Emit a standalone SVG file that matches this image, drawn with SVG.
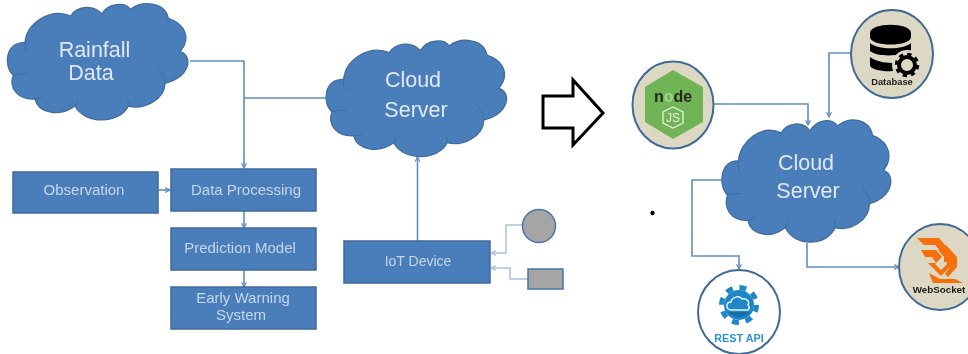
<svg xmlns="http://www.w3.org/2000/svg" width="968" height="354" viewBox="0 0 968 354">
<style>
.cloud{fill:#4a7ebb;stroke:#3f6d9f;stroke-width:4;stroke-linejoin:round}
.fold{fill:none;stroke:#3f6d9f;stroke-width:3}
.box{fill:#4a7ebb;stroke:#3f6a98;stroke-width:1.5}
.gray{fill:#a5a5a5;stroke:#4a76a8;stroke-width:1.5}
.disc{fill:#ddd8c4;stroke:#3f6a98;stroke-width:2}
text{font-family:"Liberation Sans",Arial,sans-serif;text-anchor:middle}
.big{fill:#dfe8f3;font-size:21.5px}
.lab{fill:#c6d6ea;font-size:15px}
.wire{fill:none;stroke:#5f8ec2;stroke-width:1.6}
.thin{fill:none;stroke:#a9c0da;stroke-width:1.4}
.bk{fill:#000}
.ic{font-weight:bold}
.ws{fill:#f56f0c}
</style>
<defs>
<filter id="soft" x="0" y="0" width="968" height="354" filterUnits="userSpaceOnUse"><feGaussianBlur stdDeviation="0.45"/></filter>
<marker id="a" viewBox="0 0 10 10" refX="9" refY="5" markerWidth="6" markerHeight="6" orient="auto" markerUnits="userSpaceOnUse"><path d="M1 1L9 5L1 9" fill="none" stroke="#5f8ec2" stroke-width="2"/></marker>
<marker id="b" viewBox="0 0 10 10" refX="9" refY="5" markerWidth="6" markerHeight="6" orient="auto" markerUnits="userSpaceOnUse"><path d="M1 1L9 5L1 9" fill="none" stroke="#a9c0da" stroke-width="2"/></marker>
<g id="cloudShape">
<path class="cloud" d="M75 128C80 70 150 22 212 48C230 18 280 12 305 42C325 8 375 5 392 28C425 0 495 5 505 55C545 68 568 100 553 135L540 155C578 165 575 228 495 250C495 300 430 330 385 318C360 372 255 375 225 318C180 352 115 340 105 297C55 300 25 265 40 225C10 200 15 125 75 128Z"/>
<path class="fold" d="M75 128C73 142 75 152 80 160M40 225C55 222 68 222 82 220M495 250C495 230 485 215 470 205M385 318C385 308 385 302 382 296M225 318C230 312 232 306 232 300M105 297C115 297 122 295 130 290M540 155C546 148 550 142 553 135"/>
</g>
</defs>
<g filter="url(#soft)">
<rect width="968" height="354" fill="#fff"/>
<g id="connectors">
<path class="wire" d="M190 61H244V168" marker-end="url(#a)"/>
<path class="wire" d="M244 98H327"/>
<path class="wire" d="M159 190H170" marker-end="url(#a)"/>
<path class="wire" d="M244 211V228" marker-end="url(#a)"/>
<path class="wire" d="M244 270V287" marker-end="url(#a)"/>
<path class="wire" d="M417.500 241V157" marker-end="url(#a)"/>
<path class="thin" d="M522 225H506V253H491" marker-end="url(#b)"/>
<path class="thin" d="M528 279H510V268H491" marker-end="url(#b)"/>
<path class="wire" d="M714 104H808V125" marker-end="url(#a)"/>
<path class="wire" d="M852 53H829V117" marker-end="url(#a)"/>
<path class="wire" d="M722 180H692V256H739V269" marker-end="url(#a)"/>
<path class="wire" d="M807 243V267H899" marker-end="url(#a)"/>
</g>
<g id="rainfall">
<use href="#cloudShape" transform="scale(.3333)"/>
<text class="big" x="94.500" y="57">Rainfall</text>
<text class="big" x="91" y="80">Data</text>
</g>
<g id="cloud-left">
<use href="#cloudShape" transform="translate(318.700 36.700) scale(.3333)"/>
<text class="big" x="413" y="87">Cloud</text>
<text class="big" x="416" y="117">Server</text>
</g>
<g id="observation"><rect class="box" x="13" y="172" width="145" height="41"/><text class="lab" x="84" y="195">Observation</text></g>
<g id="data-processing"><rect class="box" x="171" y="169" width="145" height="42"/><text class="lab" x="246" y="195">Data Processing</text></g>
<g id="prediction-model"><rect class="box" x="171" y="228" width="145" height="42"/><text class="lab" x="240" y="253">Prediction Model</text></g>
<g id="early-warning"><rect class="box" x="171" y="287" width="145" height="42"/><text class="lab" x="243" y="303">Early Warning</text><text class="lab" x="241" y="320">System</text></g>
<g id="iot-device"><rect class="box" x="344" y="241" width="146" height="42"/><text class="lab" x="418" y="266" style="font-size:14px">IoT Device</text></g>
<g id="sensor-circle"><circle class="gray" cx="539" cy="226" r="16.500"/></g>
<g id="sensor-rect"><rect class="gray" x="528" y="269" width="35" height="20"/></g>
<g id="big-arrow"><path d="M543 96H573V80L603 113L573 145V128H543Z" fill="#fff" stroke="#000" stroke-width="3"/></g>
<g id="cloud-right">
<use href="#cloudShape" transform="translate(715 116.200) scale(.312 .35)"/>
<text class="big" x="806" y="170">Cloud</text>
<text class="big" x="808" y="198">Server</text>
</g>
<g id="nodejs">
<ellipse class="disc" cx="673" cy="105" rx="40.500" ry="43.500"/>
<path d="M673 70L703 87V122L673 139L645 122V87Z" fill="#70b455"/>
<text class="ic" x="673" y="102" style="font-size:16px" fill="#25291f">n<tspan fill="#a6d48c">o</tspan>de</text>
<path d="M673 107L683 112V123L673 128L663 123V112Z" fill="none" stroke="#e4f1dc" stroke-width="1.300"/>
<text x="673" y="122" style="font-size:12px" fill="#e4f1dc">JS</text>
</g>
<g id="database">
<ellipse class="disc" cx="892" cy="54" rx="41" ry="44"/>
<path class="bk" d="M870 33C870 22 911 22 911 33V37C911 47 870 47 870 37Z"/>
<path class="bk" d="M870 43C878 50 903 50 911 43V50C905 56 878 58 870 51Z"/>
<path class="bk" d="M870 57C878 63 893 64 899 62L897 68L893 71C885 72 870 70 870 65Z"/>
<circle cx="907" cy="65" r="15" fill="#ddd8c4"/>
<circle cx="907" cy="65" r="8" fill="none" stroke="#000" stroke-width="4"/>
<circle cx="907" cy="65" r="10.500" fill="none" stroke="#000" stroke-width="3.500" stroke-dasharray="4.120 4.120"/>
<text class="ic" x="892" y="85" style="font-size:9.400px" fill="#1a1a1a">Database</text>
</g>
<g id="rest-api">
<ellipse cx="739" cy="312" rx="41" ry="42" fill="#fff" stroke="#3f6a98" stroke-width="2"/>
<circle cx="739" cy="305" r="15" fill="#1f86c8"/>
<circle cx="739" cy="305" r="17.500" fill="none" stroke="#1f86c8" stroke-width="5" stroke-dasharray="6.870 6.870"/>
<path d="M728 312A15 15 0 0 0 750 312Z" fill="#166fa8"/>
<path d="M731 310C725 309 726 302 731 302C732 297 739 295 742 299C747 298 750 302 748 305C751 308 748 311 745 310Z" fill="#1f86c8" stroke="#e8f3fa" stroke-width="1.400"/>
<text class="ic" x="739" y="342" style="font-size:10.800px" fill="#2f93c9">REST API</text>
</g>
<g id="websocket">
<ellipse class="disc" cx="940" cy="267" rx="41" ry="43"/>
<path class="ws" d="M917 238H939L951 252V262H944V254L935 245H924Z"/>
<path class="ws" d="M921 250H936L942 257L935 264L941 270L947 264L945 258L938 250L941 248L951 260V266L941 276L928 263H936L932 257H925Z"/>
<path class="ws" d="M946 245L957 257V267L948 277L945 274L951 266V256L943 248Z"/>
<path class="ws" d="M929 273L940 279H955L963 283H933Z"/>
<text class="ic" x="939" y="293" style="font-size:9.800px" fill="#1a1a1a">WebSocket</text>
</g>
<circle id="dot" cx="652.500" cy="213" r="2.200" fill="#000"/>
</g>
</svg>
